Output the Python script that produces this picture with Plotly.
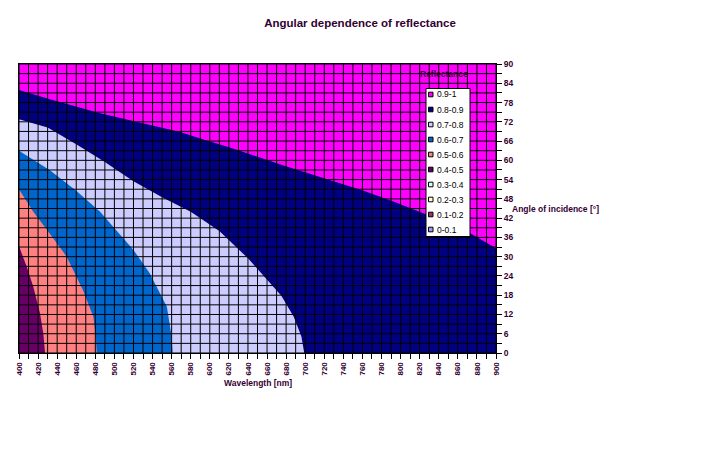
import plotly.graph_objects as go

# ---------------- data ----------------
WL_RANGE = [400, 900]          # wavelength [nm]
ANGLE_RANGE = [0, 90]          # angle of incidence [deg]

WL_TICKS = list(range(400, 901, 20))
ANGLE_TICKS = list(range(0, 91, 6))
GRID_WL = list(range(400, 901, 10))
GRID_ANGLE = list(range(0, 91, 3))

# contour boundaries (wavelength, angle) between reflectance bands
B09_WL = [400, 432.5, 485, 537, 569, 590, 621, 674, 736.5, 760.5, 796, 831, 873, 900]
B09_ANG = [81.9, 79.0, 74.7, 71.0, 68.8, 66.8, 64.0, 58.7, 52.9, 50.6, 46.8, 42.7, 37.3, 32.6]

B08_WL = [400, 430, 460, 490, 520, 550, 580, 610, 640, 660, 675, 688, 696, 699]
B08_ANG = [72.8, 70.2, 65.0, 59.5, 53.5, 48.5, 44.0, 38.0, 29.5, 23.0, 17.8, 11.3, 5.1, 0]

B07_WL = [400, 432, 460, 485, 520, 537, 555, 560, 561]
B07_ANG = [63.0, 57.0, 50.5, 44.0, 32.1, 24.8, 14.4, 5.1, 0]

B06_WL = [400, 415, 432, 450, 467, 478, 480.5, 481.5]
B06_ANG = [51.0, 44.0, 37.3, 30.0, 19.6, 11.3, 5.0, 0]

B05_WL = [400, 408, 415, 422, 425.5, 427.3]
B05_ANG = [33.3, 26.9, 20.6, 12.4, 6.0, 0]

LEGEND_LABELS = ["0.9-1", "0.8-0.9", "0.7-0.8", "0.6-0.7", "0.5-0.6",
                 "0.4-0.5", "0.3-0.4", "0.2-0.3", "0.1-0.2", "0-0.1"]
LEGEND_COLORS = ["#FF00FF", "#000080", "#CCCCFF", "#0066CC", "#FF8080",
                 "#660066", "#CCFFFF", "#FFFFCC", "#993366", "#9999FF"]

TXT = "#330033"
FONT = "Liberation Sans, Arial, sans-serif"

fig = go.Figure()

# ---------------- filled bands ----------------
x0, x1 = WL_RANGE
y0, y1 = ANGLE_RANGE
bands = [
    ([x0, x1, x1, x0], [y0, y0, y1, y1], LEGEND_COLORS[0]),
    (B09_WL + [x1, x0], B09_ANG + [y0, y0], LEGEND_COLORS[1]),
    (B08_WL + [x0], B08_ANG + [y0], LEGEND_COLORS[2]),
    (B07_WL + [x0], B07_ANG + [y0], LEGEND_COLORS[3]),
    (B06_WL + [x0], B06_ANG + [y0], LEGEND_COLORS[4]),
    (B05_WL + [x0], B05_ANG + [y0], LEGEND_COLORS[5]),
]
for xs, ys, col in bands:
    fig.add_trace(go.Scatter(x=xs, y=ys, mode="lines", fill="toself",
                             fillcolor=col, line=dict(width=0, color=col),
                             showlegend=False, hoverinfo="skip"))

# ---------------- grid drawn on top (like Excel surface chart) ----------------
gx, gy = [], []
for v in GRID_WL:
    gx += [v, v, None]
    gy += [y0, y1, None]
for a in GRID_ANGLE:
    gx += [x0, x1, None]
    gy += [a, a, None]
fig.add_trace(go.Scatter(x=gx, y=gy, mode="lines",
                         line=dict(color="black", width=1),
                         showlegend=False, hoverinfo="skip"))

# ---------------- layout ----------------
L, R, T, B = 19, 224, 64, 101
W, H = 720, 454
PW, PH = W - L - R, H - T - B


def px(xpix):
    return (xpix - L) / PW


def py(ypix):
    return (H - B - ypix) / PH


fig.update_layout(
    width=W, height=H,
    margin=dict(l=L, r=R, t=T, b=B),
    paper_bgcolor="white", plot_bgcolor="white",
    showlegend=False, hovermode=False,
    font=dict(family=FONT, color=TXT),
    title=dict(text="Angular dependence of reflectance",
               x=0.5, xref="container", xanchor="center",
               y=1 - 23 / H, yref="container", yanchor="middle",
               font=dict(family=FONT, size=11.5, color=TXT, weight="bold")),
    xaxis=dict(range=WL_RANGE, tickvals=WL_TICKS, tickangle=-90,
               ticks="outside", ticklen=5, tickcolor="black", tickwidth=1,
               minor=dict(tickvals=GRID_WL, ticks="outside", ticklen=5,
                          tickcolor="black", showgrid=False),
               showgrid=False, zeroline=False, showline=True,
               linecolor="black", linewidth=1, mirror=True,
               tickfont=dict(family=FONT, size=8, color=TXT, weight="bold")),
    yaxis=dict(range=ANGLE_RANGE, tickvals=ANGLE_TICKS, side="right",
               ticks="outside", ticklen=5, tickcolor="black", tickwidth=1,
               minor=dict(tickvals=GRID_ANGLE, ticks="outside", ticklen=5,
                          tickcolor="black", showgrid=False),
               showgrid=False, zeroline=False, showline=True,
               linecolor="black", linewidth=1, mirror=True,
               tickfont=dict(family=FONT, size=8.5, color=TXT, weight="bold")),
)

annotations = [
    dict(text="Wavelength [nm]", x=0.5, y=py(383), xref="paper", yref="paper",
         xanchor="center", yanchor="middle", showarrow=False,
         font=dict(family=FONT, size=8.5, color=TXT, weight="bold")),
    dict(text="Angle of incidence [°]", x=px(510), y=py(209), xref="paper",
         yref="paper", xanchor="left", yanchor="middle", showarrow=False,
         font=dict(family=FONT, size=8.5, color=TXT, weight="bold")),
    dict(text="Reflectance", x=px(444), y=py(74), xref="paper", yref="paper",
         xanchor="center", yanchor="middle", showarrow=False,
         font=dict(family=FONT, size=8.5, color=TXT, weight="bold")),
]

shapes = [dict(type="rect", xref="paper", yref="paper",
               x0=px(426), x1=px(470), y0=py(236.5), y1=py(88.5),
               fillcolor="white", line=dict(color="black", width=1), layer="above")]

for i, (lab, col) in enumerate(zip(LEGEND_LABELS, LEGEND_COLORS)):
    cy = 94.5 + i * 15.0
    shapes.append(dict(type="rect", xref="paper", yref="paper",
                       x0=px(428.5), x1=px(433), y0=py(cy + 2.3), y1=py(cy - 2.3),
                       fillcolor=col, line=dict(color="black", width=1), layer="above"))
    annotations.append(dict(text=lab, x=px(435), y=py(cy), xref="paper", yref="paper",
                            xanchor="left", yanchor="middle", showarrow=False,
                            font=dict(family=FONT, size=8.5, color="black")))

fig.update_layout(annotations=annotations, shapes=shapes)

fig.write_html("out.html",
               config={"displayModeBar": False, "staticPlot": True},
               post_script="document.body.style.margin='0';document.body.style.overflow='hidden';")
